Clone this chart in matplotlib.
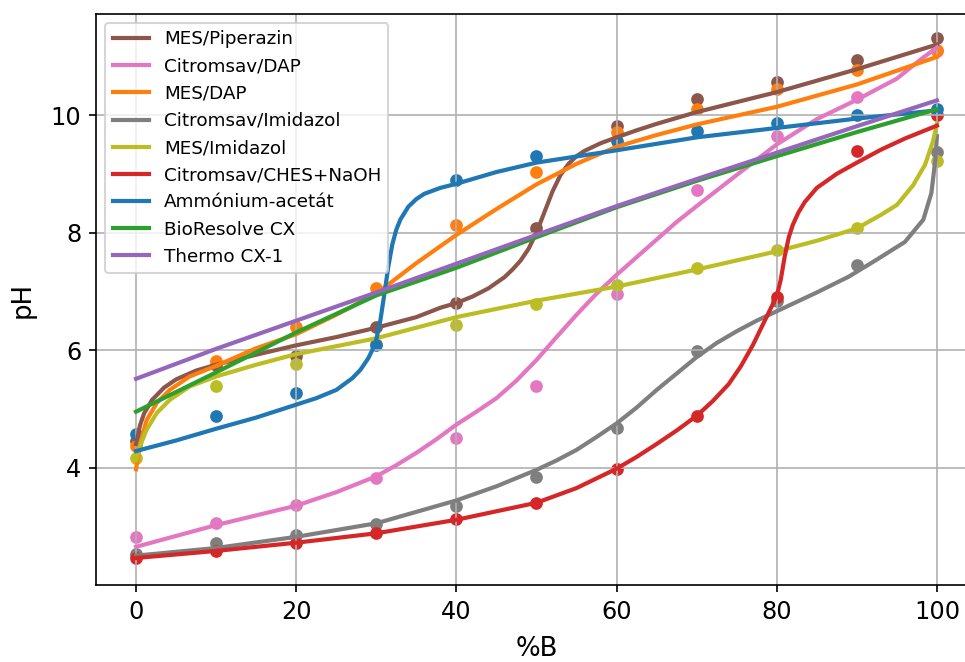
import matplotlib
matplotlib.use('Agg')
from matplotlib import pyplot as plt

# Measured points (%B vs pH), one list per buffer system
x_meas = [0, 10, 20, 30, 40, 50, 60, 70, 80, 90, 100]

ph_mes_pip = [4.45, 5.75, 5.89, 6.39, 6.80, 8.08, 9.81, 10.27, 10.56, 10.94, 11.31]
ph_cit_dap = [2.82, 3.06, 3.36, 3.82, 4.51, 5.38, 6.96, 8.72, 9.65, 10.31, 11.09]
ph_mes_dap = [4.37, 5.82, 6.39, 7.06, 8.12, 9.03, 9.71, 10.11, 10.44, 10.77, 11.11]
ph_cit_imi = [2.52, 2.71, 2.85, 3.03, 3.34, 3.84, 4.68, 5.98, 6.83, 7.44, 9.37]
ph_mes_imi = [4.16, 5.38, 5.77, 6.10, 6.42, 6.78, 7.10, 7.39, 7.70, 8.07, 9.22]
ph_cit_ches = [2.46, 2.58, 2.72, 2.88, 3.12, 3.40, 3.98, 4.88, 6.90, 9.38, 10.00]
ph_amm_ac = [4.57, 4.87, 5.26, 6.09, 8.90, 9.31, 9.55, 9.73, 9.86, 10.00, 10.10]

fx_mes_pip = [0, 0.5, 1, 2, 3.5, 5, 7.5, 10, 15, 20, 25, 30, 35, 38, 40, 42, 44,
              46, 47, 48, 49, 50, 51, 52, 53, 54, 55, 56, 58, 60, 62.5, 65, 70,
              80, 90, 100]
fy_mes_pip = [4.40, 4.72, 4.92, 5.15, 5.36, 5.50, 5.65, 5.75, 5.92, 6.08, 6.22,
              6.38, 6.56, 6.72, 6.80, 6.91, 7.05, 7.24, 7.37, 7.52, 7.72, 8.00,
              8.35, 8.70, 8.98, 9.17, 9.30, 9.39, 9.52, 9.62, 9.74, 9.85, 10.05,
              10.39, 10.78, 11.20]

fx_cit_dap = [0, 10, 20, 25, 30, 32.5, 35, 37.5, 40, 42.5, 45, 47.5, 50, 52.5,
              55, 57.5, 60, 62.5, 65, 67.5, 70, 75, 80, 85, 90, 95, 98, 100]
fy_cit_dap = [2.65, 3.02, 3.35, 3.58, 3.85, 4.04, 4.25, 4.48, 4.73, 4.95, 5.18,
              5.48, 5.83, 6.22, 6.60, 6.96, 7.28, 7.58, 7.88, 8.18, 8.45, 8.98,
              9.50, 9.93, 10.26, 10.62, 10.95, 11.15]

fx_mes_dap = [0, 0.5, 1.3, 2.6, 4.2, 6.7, 10, 15, 20, 25, 30, 35, 40, 45, 50, 55,
              60, 65, 70, 80, 90, 100]
fy_mes_dap = [3.97, 4.40, 4.80, 5.10, 5.32, 5.55, 5.73, 6.03, 6.27, 6.60, 6.96,
              7.48, 7.96, 8.40, 8.82, 9.17, 9.46, 9.66, 9.84, 10.14, 10.52, 10.99]

fx_cit_imi = [0, 10, 20, 30, 40, 45, 50, 52.5, 55, 57.5, 60, 62.5, 65, 67.5, 70,
              72.5, 75, 77.5, 80, 85, 89, 92.5, 96, 98.3, 99.3, 99.8, 100]
fy_cit_imi = [2.50, 2.63, 2.82, 3.05, 3.44, 3.68, 3.96, 4.12, 4.30, 4.52, 4.75,
              5.02, 5.32, 5.60, 5.88, 6.12, 6.32, 6.50, 6.66, 6.98, 7.25, 7.54,
              7.84, 8.22, 8.67, 9.24, 9.64]

fx_mes_imi = [0, 0.5, 1.3, 2.6, 4.2, 6.7, 10, 15, 20, 30, 40, 50, 60, 70, 80, 85,
              90, 93, 95, 97, 98.5, 99.5, 100]
fy_mes_imi = [4.13, 4.36, 4.64, 4.93, 5.15, 5.38, 5.55, 5.75, 5.93, 6.20, 6.56,
              6.84, 7.08, 7.37, 7.68, 7.86, 8.07, 8.30, 8.47, 8.80, 9.15, 9.55,
              9.85]

fx_cit_ches = [0, 10, 20, 30, 40, 50, 55, 60, 62.5, 65, 67.5, 70, 72, 74, 75.5,
               77, 78.5, 79.5, 80, 80.5, 81, 81.5, 82, 82.7, 83.5, 85, 87.5, 90,
               93, 96, 100]
fy_cit_ches = [2.46, 2.58, 2.72, 2.88, 3.11, 3.40, 3.65, 3.98, 4.18, 4.40, 4.63,
               4.88, 5.13, 5.42, 5.72, 6.08, 6.50, 6.78, 6.92, 7.20, 7.60, 7.92,
               8.13, 8.34, 8.52, 8.76, 9.00, 9.19, 9.41, 9.60, 9.82]

fx_amm_ac = [0, 5, 10, 15, 20, 22.5, 25, 26, 27, 28, 29, 29.5, 30, 30.5, 31,
             31.5, 32, 32.5, 33, 34, 35, 36, 38, 40, 45, 50, 60, 70, 80, 90, 100]
fy_amm_ac = [4.28, 4.46, 4.66, 4.85, 5.07, 5.18, 5.32, 5.42, 5.52, 5.66, 5.86,
             6.00, 6.18, 6.50, 6.95, 7.42, 7.80, 8.05, 8.22, 8.44, 8.57, 8.66,
             8.76, 8.83, 9.03, 9.19, 9.40, 9.62, 9.78, 9.94, 10.08]

fx_bio = [0, 10, 20, 30, 40, 50, 60, 70, 80, 90, 100]
fy_bio = [4.95, 5.62, 6.30, 6.93, 7.40, 7.92, 8.43, 8.88, 9.30, 9.71, 10.10]

fx_thermo = [0, 10, 20, 30, 40, 50, 60, 70, 80, 90, 100]
fy_thermo = [5.51, 6.02, 6.50, 6.98, 7.47, 7.96, 8.45, 8.91, 9.36, 9.81, 10.25]

series = [
    ('MES/Piperazin', 'tab:brown', ph_mes_pip, fx_mes_pip, fy_mes_pip),
    ('Citromsav/DAP', 'tab:pink', ph_cit_dap, fx_cit_dap, fy_cit_dap),
    ('MES/DAP', 'tab:orange', ph_mes_dap, fx_mes_dap, fy_mes_dap),
    ('Citromsav/Imidazol', 'tab:gray', ph_cit_imi, fx_cit_imi, fy_cit_imi),
    ('MES/Imidazol', 'tab:olive', ph_mes_imi, fx_mes_imi, fy_mes_imi),
    ('Citromsav/CHES+NaOH', 'tab:red', ph_cit_ches, fx_cit_ches, fy_cit_ches),
    ('Ammónium-acetát', 'tab:blue', ph_amm_ac, fx_amm_ac, fy_amm_ac),
    ('BioResolve CX', 'tab:green', None, fx_bio, fy_bio),
    ('Thermo CX-1', 'tab:purple', None, fx_thermo, fy_thermo),
]

fig = plt.figure(figsize=(965 / 150, 662 / 150), dpi=150)
ax = fig.add_axes([96 / 965, 77 / 662, 881 / 965, 571 / 662])

for label, color, meas, fx, fy in series:
    if meas is not None:
        ax.scatter(x_meas, meas, s=26, color=color)
    ax.plot(fx, fy, color=color, lw=2, label=label)

ax.set_xlim(-5, 105)
ax.set_ylim(2.0, 11.72)
ax.set_xticks([0, 20, 40, 60, 80, 100])
ax.set_yticks([4, 6, 8, 10])
ax.tick_params(labelsize=11.5)
ax.set_xlabel('%B', fontsize=12.5, labelpad=6)
ax.set_ylabel('pH', fontsize=12.5, labelpad=7)
ax.grid(True)
ax.legend(loc='upper left', fontsize=8.8)

fig.savefig('out.png', dpi=150)
